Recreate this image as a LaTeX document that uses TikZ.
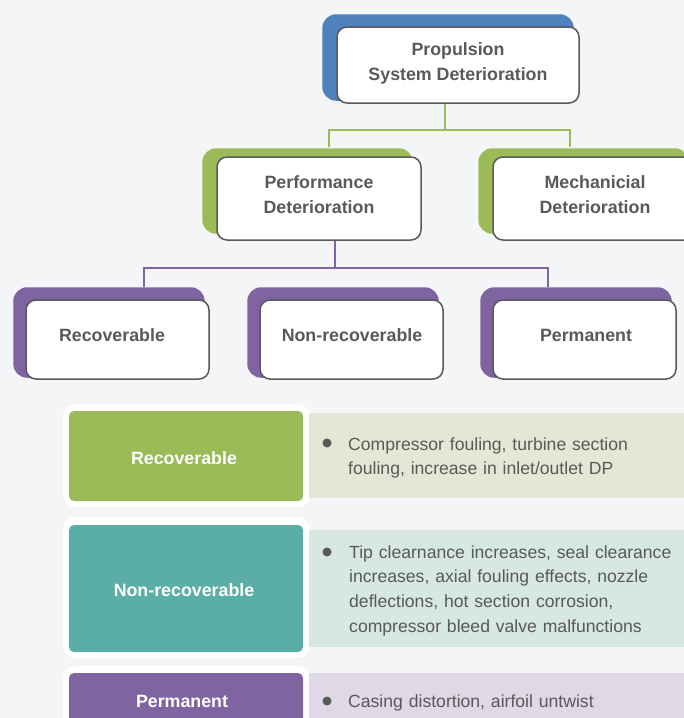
\documentclass[tikz,border=0pt]{standalone}
\usepackage{fontspec}
\setmainfont{Liberation Sans}
\definecolor{bg}{HTML}{F4F5F7}
\definecolor{cblue}{HTML}{4F81BD}
\definecolor{cgreen}{HTML}{9BBB59}
\definecolor{cpurple}{HTML}{8064A2}
\definecolor{cteal}{HTML}{5AAEA5}
\definecolor{lgreen}{HTML}{E2E8D5}
\definecolor{lteal}{HTML}{D6E7E4}
\definecolor{lpurple}{HTML}{DFD8E7}
\definecolor{tgray}{HTML}{595959}
\pgfdeclarelayer{back}
\pgfsetlayers{back,main}
\begin{document}
\begin{tikzpicture}[x=1pt,y=-1pt,
  wbox/.style={draw=tgray, line width=1.5pt, fill=white, rounded corners=10pt, inner sep=0pt},
  hd/.style={font=\bfseries\fontsize{17.8}{25}\selectfont, text=tgray, align=center, inner sep=0pt},
  wl/.style={font=\bfseries\fontsize{17.8}{25}\selectfont, text=white, align=center, inner sep=0pt},
  cbox/.style={rounded corners=5pt, inner sep=0pt, minimum width=234pt},
  body/.style={font=\fontsize{17.6}{24.8}\selectfont, text=tgray, align=left, text width=340pt, inner sep=0pt, anchor=base west},
  gline/.style={draw=cgreen, line width=2pt},
  pline/.style={draw=cpurple, line width=2pt},
  shadow/.style={rounded corners=14pt}]
\clip (0,0) rectangle (684,718);
\useasboundingbox (0,0) rectangle (684,718);
\begin{pgfonlayer}{back}
\fill[bg] (0,0) rectangle (684,718);
\end{pgfonlayer}

% ---- tree boxes
\node[wbox, minimum width=242pt, minimum height=76pt] (top) at (458,65) {};
\node[wbox, minimum width=204pt, minimum height=83pt] (perf) at (319,198.5) {};
\node[wbox, minimum width=204pt, minimum height=83pt] (mech) at (595,198.5) {};
\node[wbox, minimum width=183pt, minimum height=79pt] (rec) at (117.5,339.5) {};
\node[wbox, minimum width=183pt, minimum height=79pt] (nrec) at (351.5,339.5) {};
\node[wbox, minimum width=183pt, minimum height=79pt] (perm) at (584.5,339.5) {};

\begin{pgfonlayer}{back}
\fill[cblue, shadow] ([shift={(-14,-12)}]top.north west) rectangle ([shift={(-6,-3)}]top.south east);
\fill[cgreen, shadow] ([shift={(-14,-8)}]perf.north west) rectangle ([shift={(-9,-7)}]perf.south east);
\fill[cgreen, shadow] ([shift={(-14,-8)}]mech.north west) rectangle ([shift={(-9,-7)}]mech.south east);
\foreach \n in {rec,nrec,perm}
  \fill[cpurple, shadow] ([shift={(-12,-12)}]\n.north west) rectangle ([shift={(-5,-2)}]\n.south east);
\end{pgfonlayer}

\node[hd] (ttop) at (458,63) {Propulsion\\System Deterioration};
\node[hd] (tperf) at (319,194.5) {Performance\\Deterioration};
\node[hd] (tmech) at (595,194.5) {Mechanicial\\Deterioration};
\node[hd] (trec) at (112,335) {Recoverable};
\node[hd] (tnrec) at (352,335) {Non-recoverable};
\node[hd] (tperm) at (586,335) {Permanent};

% ---- connectors
\coordinate (gj) at (445,130);
\coordinate (gl) at (329,147);
\coordinate (gr) at (570,147);
\draw[gline] (gj |- top.south) -- (gj);
\draw[gline] (gl) |- (gj) -| (gr);
\coordinate (pj) at (335,268);
\coordinate (pl) at (144,287);
\coordinate (pr) at (548,287);
\draw[pline] (pj |- perf.south) -- (pj);
\draw[pline] (pl) |- (pj) -| (pr);

% ---- lower table
\fill[white, rounded corners=12pt] (63,404) rectangle (310,507);
\fill[lgreen] (309,413) rectangle (690,498);
\node[cbox, fill=cgreen, minimum height=90pt] (lrec) at (186,456) {};
\node[wl] (llrec) at (184,458) {Recoverable};
\fill[tgray] (327,443) circle (4.5);
\node[body] (brec) at (348,450) {Compressor fouling, turbine section\\fouling, increase in inlet/outlet DP};

\fill[white, rounded corners=12pt] (63,517) rectangle (310,658);
\fill[lteal] (309,530) rectangle (690,647);
\node[cbox, fill=cteal, minimum height=127pt] (lnrec) at (186,588.5) {};
\node[wl] (llnrec) at (184,590) {Non-recoverable};
\fill[tgray] (327,552) circle (4.5);
\node[body] (bnrec) at (349,558) {Tip clearnance increases, seal clearance\\increases, axial fouling effects, nozzle\\deflections, hot section corrosion,\\compressor bleed valve malfunctions};

\fill[white, rounded corners=12pt] (63,666) rectangle (310,740);
\fill[lpurple] (309,673) rectangle (690,740);
\node[cbox, fill=cpurple, minimum height=67pt] (lperm) at (186,706.5) {};
\node[wl] (llperm) at (182,701) {Permanent};
\fill[tgray] (327,701) circle (4.5);
\node[body] (bperm) at (348,707) {Casing distortion, airfoil untwist};
\end{tikzpicture}
\end{document}
